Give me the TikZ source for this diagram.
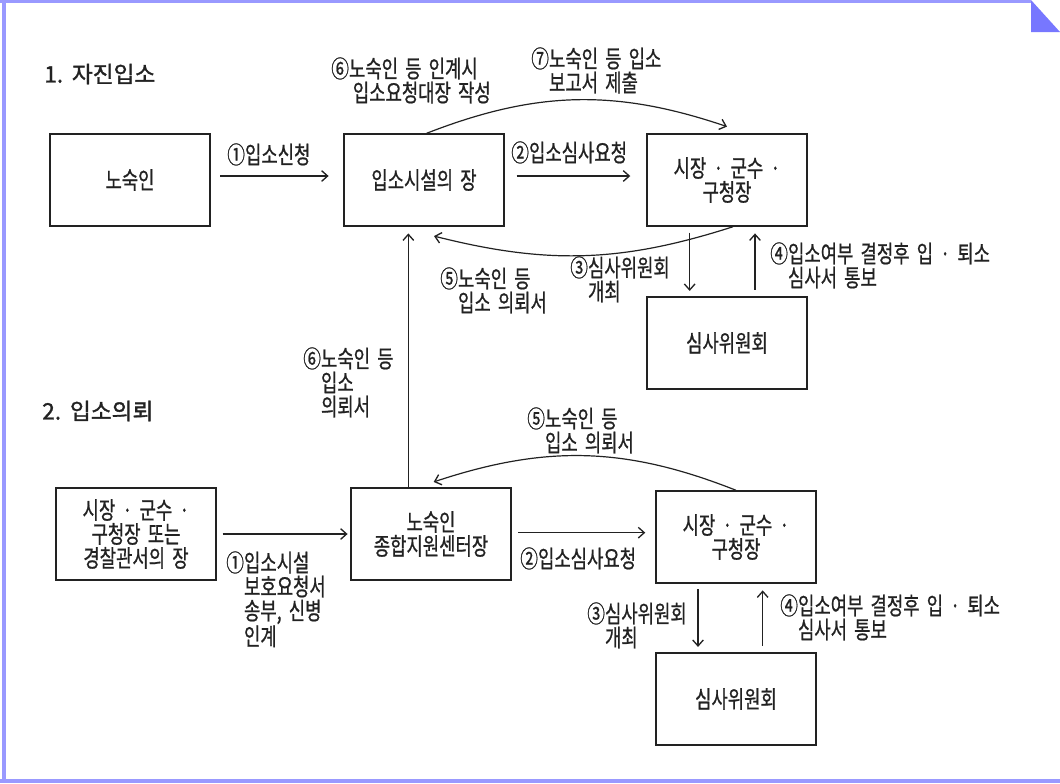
\documentclass[tikz,border=0pt]{standalone}
\usepackage{fontspec}
\newfontfamily\krfont[FakeStretch=0.74,FakeBold=0.8,WordSpace=1.8]{Noto Sans CJK KR}
\newfontfamily\krtitle[FakeBold=1.5,WordSpace=1.4]{Noto Sans CJK KR}
\usetikzlibrary{arrows.meta}
\definecolor{framecol}{HTML}{9999FF}
\definecolor{foldcol}{HTML}{7777FF}
\definecolor{ink}{HTML}{222222}
\newcommand{\lblindent}{\hspace*{0.74em}}

\begin{document}
\begin{tikzpicture}[x=0.75pt, y=-0.75pt,
	>={Straight Barb[length=4.5pt,width=8pt,line width=1pt]},
	box/.style={draw=ink, line width=1.1pt, minimum width=120pt, minimum height=69pt, inner sep=0pt, align=center, text=ink, font=\krfont\fontsize{18pt}{18pt}\selectfont},
	lbl/.style={anchor=north west, inner sep=0pt, align=left, text=ink, font=\krfont\fontsize{18pt}{18pt}\selectfont},
	title/.style={anchor=west, inner sep=0pt, text=ink, font=\krtitle\fontsize{17pt}{18pt}\selectfont},
	flow/.style={draw=ink, line width=0.9pt, ->}]
			\useasboundingbox (0,0) rectangle (1060,783);

			% Frame
			\fill[framecol] (0,0) rectangle (1031,2.5);
			\fill[framecol] (1.5,0) rectangle (5.5,783);
			\fill[framecol] (0,778.5) rectangle (1060,783);
			\fill[foldcol] (1031,0) -- (1060,32) -- (1031,32) -- cycle;

			% Titles
			\node[title] (head1) at (44,74) {1. 자진입소};
			\node[title] (head2) at (42,411) {2. 입소의뢰};

			% Boxes, part 1
			\node[box] (nosuk) at (130,180) {노숙인};
			\node[box] (sisul) at (424,180) {입소시설의 장};
			\node[box] (sijang) at (727,180) {시장 · 군수 ·\\구청장};
			\node[box] (simsa) at (727,343) {심사위원회};

			% Boxes, part 2
			\node[box] (police) at (136,534) {시장 · 군수 ·\\구청장 또는\\경찰관서의 장};
			\node[box] (centre) at (431,534) {노숙인\\종합지원센터장};
			\node[box] (sijangb) at (736,537) {시장 · 군수 ·\\구청장};
			\node[box] (simsab) at (736,699) {심사위원회};

			% Flows, part 1
			\draw[flow, shorten <=7pt, shorten >=11pt] ([yshift=3pt]nosuk.east) -- ([yshift=3pt]sisul.west);
			\draw[flow, shorten <=9pt, shorten >=12pt] ([yshift=3pt]sisul.east) -- ([yshift=3pt]sijang.west);
			\draw[flow] ([xshift=2pt]sisul.north) to[bend left=20] ([yshift=5pt]sijang.north);
			\draw[flow] ([xshift=4.5pt]sijang.south) to[bend left=16] ([xshift=7.5pt,yshift=-7pt]sisul.south);
			\draw[flow, shorten <=4.5pt, shorten >=4pt] ([xshift=-28pt]sijang.south) -- ([xshift=-28pt]simsa.north);
			\draw[flow, shorten <=5pt, shorten >=5pt] ([xshift=21pt]simsa.north) -- ([xshift=21pt]sijang.south);

			% Flows, part 2
			\draw[flow, shorten >=5pt] ([xshift=-17pt]centre.north) -- ([xshift=-17pt]centre.north |- sisul.south);
			\draw[flow, shorten <=4.5pt, shorten >=2pt] (police.east) -- (centre.west);
			\draw[flow, shorten <=5pt, shorten >=7.5pt] ([yshift=1pt]centre.east) -- ([yshift=1pt]centre.east -| sijangb.west);
			\draw[flow] (sijangb.north) to[bend right=20] ([xshift=2pt,yshift=4pt]centre.north);
			\draw[flow, shorten <=4pt, shorten >=4pt] ([xshift=-28.5pt]sijangb.south) -- ([xshift=-28.5pt]simsab.north);
			\draw[flow, shorten <=5pt, shorten >=5pt] ([xshift=20pt]simsab.north) -- ([xshift=20pt]sijangb.south);

			% Labels, part 1
			\node[lbl] (apply) at (227,143) {①입소신청};
			\node[lbl] (review) at (511,141) {②입소심사요청};
			\node[lbl] (handover) at (331,57) {⑥노숙인 등 인계시\\\hspace*{0.9em}입소요청대장 작성};
			\node[lbl] (report) at (531,47) {⑦노숙인 등 입소\\\lblindent 보고서 제출};
			\node[lbl] (request) at (440,267) {⑤노숙인 등\\\lblindent 입소 의뢰서};
			\node[lbl] (meet) at (570,256) {③심사위원회\\\lblindent 개최};
			\node[lbl] (notify) at (770,242) {④입소여부 결정후 입 · 퇴소\\\lblindent 심사서 통보};

			% Labels, part 2
			\node[lbl] (requestup) at (303,347) {⑥노숙인 등\\\lblindent 입소\\\lblindent 의뢰서};
			\node[lbl] (send) at (226,551) {①입소시설\\\lblindent 보호요청서\\\lblindent 송부, 신병\\\lblindent 인계};
			\node[lbl] (reviewb) at (520,547) {②입소심사요청};
			\node[lbl] (requestb) at (527,407) {⑤노숙인 등\\\lblindent 입소 의뢰서};
			\node[lbl] (meetb) at (587,602) {③심사위원회\\\lblindent 개최};
			\node[lbl] (notifyb) at (780,594) {④입소여부 결정후 입 · 퇴소\\\lblindent 심사서 통보};
		\end{tikzpicture}
\end{document}
